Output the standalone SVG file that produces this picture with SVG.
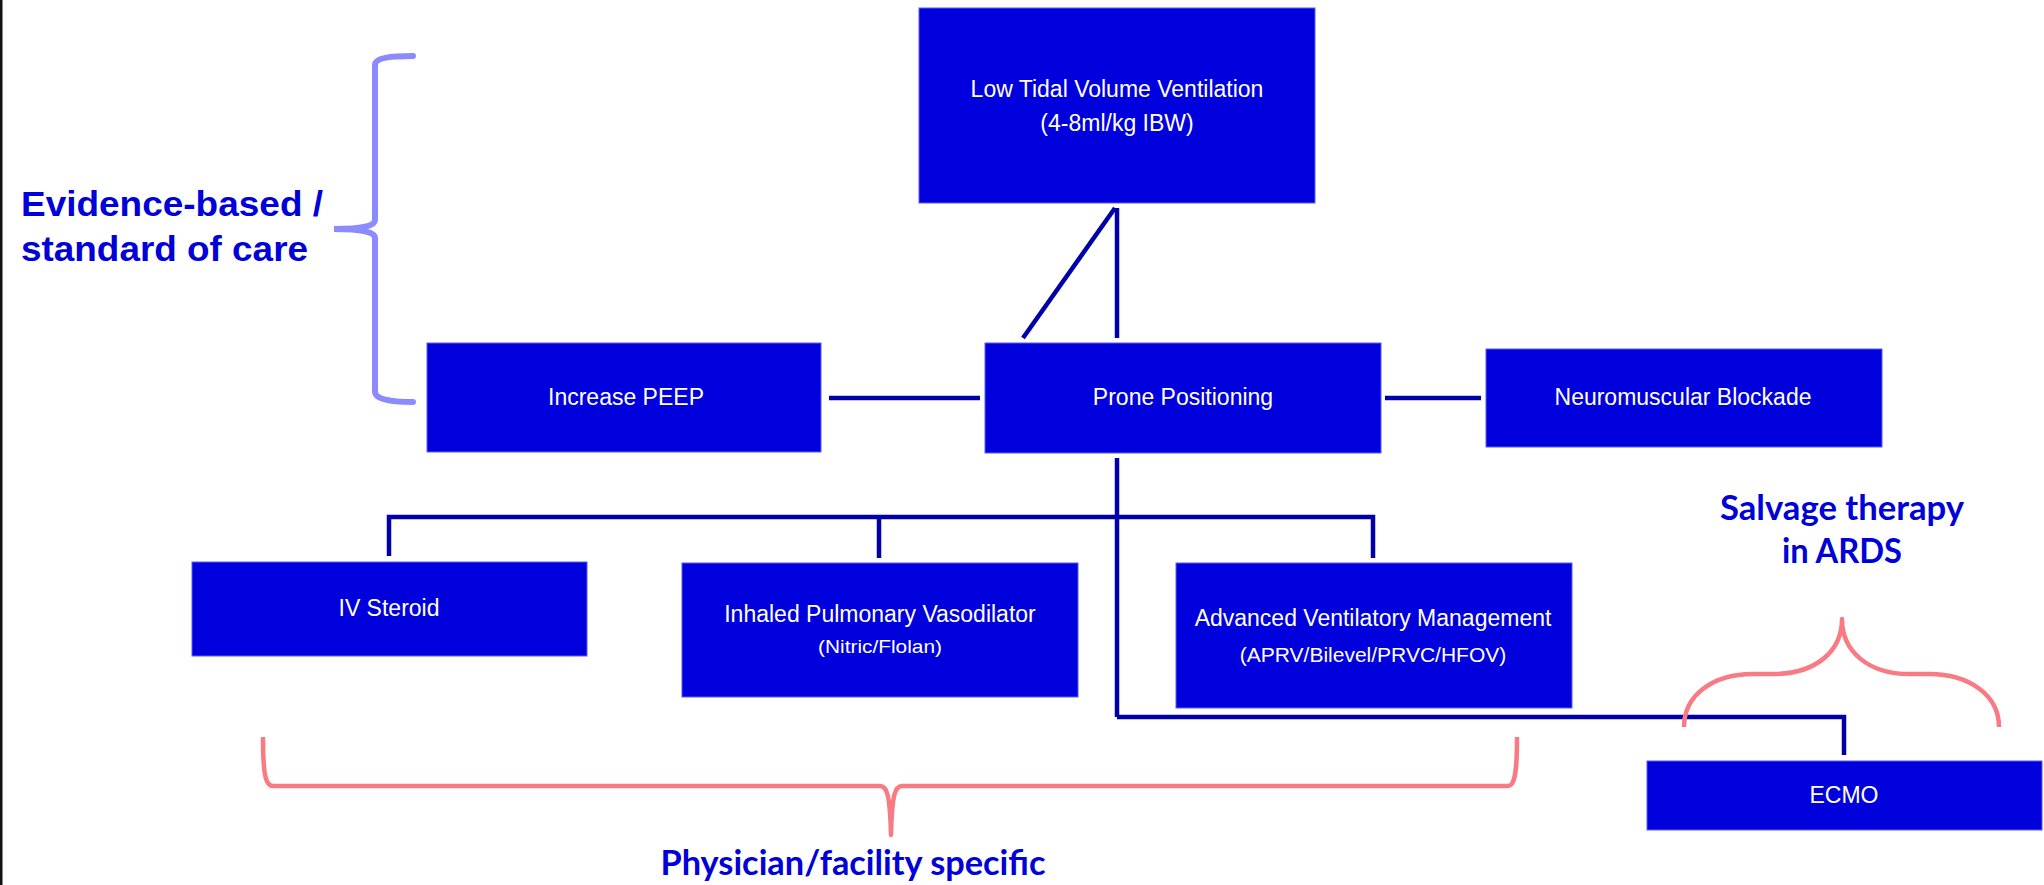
<svg xmlns="http://www.w3.org/2000/svg" width="2044" height="885" viewBox="0 0 2044 885">
<defs>
<style>
.box{fill:#0000DC;stroke:#5a5aff;stroke-width:1}
.lbl{fill:#ffffff;font-family:"Liberation Sans",Arial,sans-serif;font-size:23px;text-anchor:middle}
.sub{font-size:19px}
.conn{stroke:#0000A8;stroke-width:4.5;fill:none;stroke-linejoin:miter}
.pink{stroke:#F87A82;stroke-width:4.5;fill:none;stroke-linejoin:round}
.lav{stroke:#8B8BFF;stroke-width:6;fill:none;stroke-linecap:round}
.big{fill:#0000D8;font-family:"Liberation Sans",Arial,sans-serif;font-weight:bold;font-size:35px}
.cal{fill:#0000D8;font-family:Lato,"Open Sans",sans-serif;font-weight:bold;font-size:34px;text-anchor:middle}
</style>
</defs>
<rect x="0" y="0" width="2044" height="885" fill="#ffffff"/>
<rect x="0" y="0" width="2.5" height="885" fill="#111111"/>

<g id="connectors">
<line class="conn" x1="1117" y1="208" x2="1117" y2="338"/>
<line class="conn" x1="1115" y1="208" x2="1023" y2="338"/>
<line class="conn" x1="829" y1="398" x2="980" y2="398"/>
<line class="conn" x1="1385" y1="398" x2="1481" y2="398"/>
<line class="conn" x1="1117" y1="458" x2="1117" y2="717"/>
<polyline class="conn" points="389,556 389,517 1373,517 1373,558"/>
<line class="conn" x1="879" y1="517" x2="879" y2="558"/>
<polyline class="conn" points="1117,717 1844,717 1844,755"/>
</g>

<g id="node-ltvv">
<rect class="box" x="919" y="8" width="396" height="195"/>
<text class="lbl" x="1117" y="97">Low Tidal Volume Ventilation</text>
<text class="lbl" x="1117" y="131">(4-8ml/kg IBW)</text>
</g>
<g id="node-peep">
<rect class="box" x="427" y="343" width="394" height="109"/>
<text class="lbl" x="626" y="405">Increase PEEP</text>
</g>
<g id="node-prone">
<rect class="box" x="985" y="343" width="396" height="110"/>
<text class="lbl" x="1183" y="405">Prone Positioning</text>
</g>
<g id="node-nmb">
<rect class="box" x="1486" y="349" width="396" height="98"/>
<text class="lbl" x="1683" y="405">Neuromuscular Blockade</text>
</g>
<g id="node-steroid">
<rect class="box" x="192" y="562" width="395" height="94"/>
<text class="lbl" x="389" y="616">IV Steroid</text>
</g>
<g id="node-ipv">
<rect class="box" x="682" y="563" width="396" height="134"/>
<text class="lbl" x="880" y="622">Inhaled Pulmonary Vasodilator</text>
<text class="lbl sub" x="880" y="653" textLength="124" lengthAdjust="spacingAndGlyphs">(Nitric/Flolan)</text>
</g>
<g id="node-avm">
<rect class="box" x="1176" y="563" width="396" height="145"/>
<text class="lbl" x="1373" y="626">Advanced Ventilatory Management</text>
<text class="lbl" x="1373" y="662" style="font-size:21px">(APRV/Bilevel/PRVC/HFOV)</text>
</g>
<g id="node-ecmo">
<rect class="box" x="1647" y="761" width="395" height="69"/>
<text class="lbl" x="1844" y="803">ECMO</text>
</g>

<g id="annotations">
<path class="lav" stroke-linecap="butt" d="M413,56 C390,56 375,58 375,65 L375,220 C375,226 362,229 334,229 C362,229 375,232 375,238 L375,392 C375,399 390,402 413,402"/>
<text class="big" x="21" y="216" textLength="302" lengthAdjust="spacingAndGlyphs">Evidence-based /</text>
<text class="big" x="21" y="261" textLength="287" lengthAdjust="spacingAndGlyphs">standard of care</text>

<path class="pink" d="M263,737 C263,772 265,786 273,786 L880,786 C887,786 890,795 891,835 C892,795 895,786 902,786 L1508,786 C1515,786 1517,772 1517,737"/>
<text class="cal" x="853" y="875" textLength="385" lengthAdjust="spacingAndGlyphs">Physician/facility specific</text>

<path class="pink" d="M1684,727 C1684,695 1713,674 1753,674 L1773,674 C1815,674 1842,652 1842,619 C1842,652 1869,674 1909,674 L1929,674 C1969,674 1999,695 1999,727"/>
<text class="cal" x="1842" y="520" textLength="244" lengthAdjust="spacingAndGlyphs">Salvage therapy</text>
<text class="cal" x="1842" y="563" textLength="120" lengthAdjust="spacingAndGlyphs">in ARDS</text>
</g>
</svg>
